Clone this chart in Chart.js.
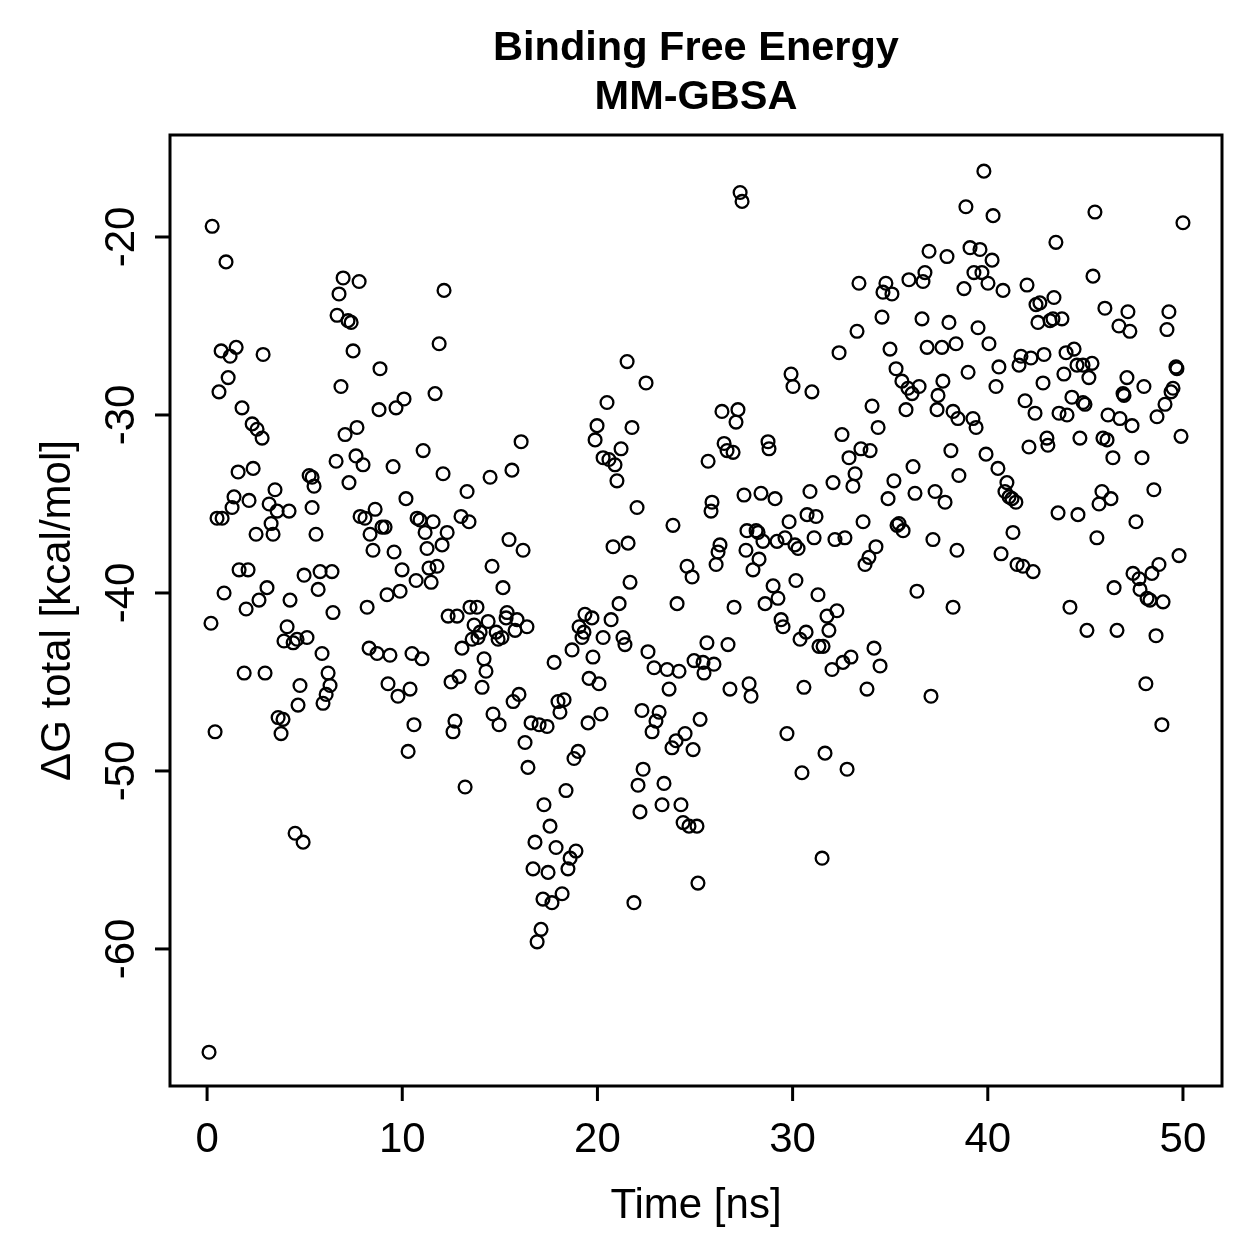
<!DOCTYPE html>
<html>
<head>
<meta charset="utf-8">
<title>Binding Free Energy MM-GBSA</title>
<script src="https://cdn.jsdelivr.net/npm/chart.js@4.4.1/dist/chart.umd.min.js"></script>
<style>
  html, body { margin: 0; padding: 0; background: #fff; }
  #wrap { width: 1259px; height: 1259px; }
</style>
</head>
<body>
<div id="wrap"><canvas id="chart" width="1259" height="1259"></canvas></div>
<script>
// ---------- Data ----------
const titleLines = ['Binding Free Energy', 'MM-GBSA'];
const xLabel = 'Time [ns]';
const yLabel = '\u0394G total [kcal/mol]';
const xTicks = [0, 10, 20, 30, 40, 50];
const yTicks = [-60, -50, -40, -30, -20];

const timeNs = [
  // 0-12 ns, upper
  0.26,0.97,6.97,7.79,6.76,6.66,7.22,7.38,7.48,8.86,6.86,10.09,9.68,8.81,7.68,7.07,11.07,11.89,11.68,12.14,0.72,1.18,1.08,0.61,1.49,2.87,1.79,2.31,2.56,2.82,7.63,
  // 0-12 ns, middle
  1.59,2.36,1.38,1.28,2.15,0.51,0.77,3.48,3.18,3.59,4.20,3.28,2.51,3.38,5.23,5.38,5.48,5.38,5.58,6.61,
  7.99,7.27,9.53,10.19,7.84,8.09,8.61,8.96,9.12,8.35,8.50,9.58,10.76,10.91,11.58,11.17,11.27,11.37,11.78,9.99,
  10.71,11.48,1.64,2.10,0.87,3.07,2.66,2.00,0.20,4.25,4.97,5.79,6.40,5.69,6.45,8.20,9.22,9.89,4.10,3.94,
  4.41,4.61,5.12,5.89,8.30,8.71,9.37,10.50,11.01,1.90,2.97,6.20,6.30,4.76,6.10,5.94,4.66,9.27,9.78,10.40,
  3.64,3.89,3.79,0.41,10.60,10.30,
  // 0-12 ns, lower
  4.51,4.92,0.10,
  // 12-25 ns, middle
  20.29,20.59,20.90,21.00,12.09,14.50,15.62,13.32,13.01,13.42,12.30,12.04,15.47,16.19,14.60,15.16,22.03,20.80,21.57,23.87,
  21.67,24.59,24.85,21.11,24.08,12.35,12.81,13.47,13.83,13.68,13.99,13.88,13.58,13.06,14.40,14.81,14.91,15.11,15.37,15.32,
  15.88,15.78,16.39,14.19,14.29,12.50,12.91,14.09,15.68,15.98,14.65,14.96,12.70,12.60,16.60,17.01,17.42,16.29,17.98,18.29,
  18.08,19.01,18.80,17.78,18.70,19.36,19.72,19.06,19.31,19.21,20.70,20.29,21.31,21.41,19.77,19.57,20.08,20.18,19.52,22.59,
  22.90,23.57,24.18,23.67,24.95,22.28,23.16,23.00,22.80,24.49,24.03,23.82,24.90,25.26,22.34,16.44,
  // 12-25 ns, upper
  21.52,22.49,20.49,19.98,21.77,19.88,21.21,16.09,
  // 12-25 ns, lower
  13.22,18.39,17.26,17.57,16.80,17.88,18.90,18.60,16.70,17.47,18.49,18.19,17.21,17.67,17.11,16.91,21.87,22.08,23.41,22.18,
  23.31,24.28,24.39,24.69,25.10,25.15,
  // 25-38 ns, upper
  27.31,27.41,36.99,37.91,33.40,34.78,34.63,35.09,35.96,36.78,36.68,34.58,36.63,38.01,33.30,32.38,34.99,36.89,37.65,38.37,
  35.30,35.60,35.91,36.12,36.48,37.70,37.45,37.40,38.22,38.47,29.92,30.02,30.99,34.07,35.81,34.38,32.53,26.38,27.20,27.10,
  26.49,26.64,26.95,28.74,28.79,33.50,33.97,38.11,
  // 38-50 ns, upper
  39.80,38.88,40.27,45.49,50.00,43.49,39.09,39.60,40.22,45.39,39.29,39.70,40.01,38.78,40.78,42.01,42.47,42.67,43.39,42.57,
  43.19,43.34,43.80,46.00,47.18,49.28,46.72,47.28,49.18,39.50,40.06,41.70,41.60,42.21,42.88,38.99,40.57,40.42,42.83,44.01,
  44.42,43.90,44.57,44.88,45.34,45.18,47.13,48.00,49.64,49.69,46.93,46.98,49.49,49.39,49.08,48.67,47.39,46.77,46.16,44.31,
  44.88,44.98,43.65,44.06,41.91,42.42,39.24,39.40,43.03,43.08,42.11,44.72,45.90,46.11,49.90,39.91,46.41,47.90,
  // 25-38 ns, middle
  25.67,32.89,36.17,33.20,32.07,33.09,30.89,35.19,36.27,37.30,37.81,34.89,27.51,28.38,29.10,25.87,25.82,29.82,30.74,31.20,
  33.61,35.35,35.45,35.66,37.19,38.42,27.66,28.13,28.23,28.48,29.20,29.61,30.12,30.28,31.10,32.17,32.68,34.27,33.91,33.71,
  26.28,26.18,26.08,27.61,28.28,27.97,29.00,29.25,30.17,28.59,27.00,31.30,31.76,32.27,31.86,29.41,29.51,30.69,30.38,31.35,
  31.56,25.61,26.69,25.41,25.97,25.46,27.77,27.87,26.79,30.58,32.58,32.99,32.02,34.17,34.48,33.81,37.09,36.37,38.22,29.71,
  31.66,38.52,
  // 25-38 ns, lower
  30.48,32.79,31.51,
  // 38-50 ns, middle
  40.52,40.98,40.88,41.09,41.24,41.44,48.51,45.85,46.31,45.70,43.60,44.62,47.59,41.29,45.59,40.68,41.50,41.80,42.32,49.80,
  48.77,48.41,47.44,47.75,47.80,46.47,48.16,48.31,48.98,44.21,45.08,46.62,48.62,48.10,48.92
];

const dGTotal = [
  // 0-12 ns, upper
  -19.4,-21.4,-22.3,-22.5,-23.2,-24.4,-24.7,-24.8,-26.4,-27.4,-28.4,-29.1,-29.6,-29.7,-30.7,-31.1,-32.0,-26.0,-28.8,-23.0,-26.4,-26.7,-27.9,-28.7,-26.2,-26.6,-29.6,-30.5,-30.8,-31.3,-32.3,
  // 0-12 ns, middle
  -33.2,-33.0,-34.6,-35.2,-34.8,-35.8,-35.8,-34.2,-35.0,-35.4,-35.4,-36.1,-36.7,-36.7,-33.4,-33.5,-34.0,-35.2,-36.7,-32.6,
  -32.8,-33.8,-32.9,-34.7,-35.7,-35.8,-35.3,-36.3,-36.3,-36.7,-37.6,-37.7,-35.8,-35.9,-36.0,-36.6,-37.5,-38.6,-38.5,-38.7,
  -39.3,-39.4,-38.7,-38.7,-40.0,-39.7,-40.4,-40.9,-41.7,-40.4,-39.0,-38.8,-38.8,-39.8,-41.1,-40.8,-40.1,-39.9,-41.9,-42.7,
  -42.8,-42.6,-42.5,-43.4,-43.1,-43.4,-43.5,-43.4,-43.7,-44.5,-44.5,-44.5,-45.2,-45.2,-45.7,-46.2,-46.3,-45.1,-45.8,-45.4,
  -47.0,-47.1,-47.9,-47.8,-47.4,-48.9,
  // 0-12 ns, lower
  -53.5,-54.0,-65.8,
  // 12-25 ns, middle
  -32.4,-32.5,-32.8,-33.7,-33.3,-33.5,-33.1,-34.3,-35.7,-36.0,-36.6,-37.3,-37.0,-37.6,-38.5,-39.7,-35.2,-37.4,-37.2,-36.2,
  -39.4,-38.5,-39.1,-40.6,-40.6,-41.3,-41.3,-40.8,-40.8,-41.8,-42.2,-42.5,-42.6,-43.1,-41.6,-42.2,-42.6,-42.5,-41.1,-41.4,
  -41.5,-42.1,-41.9,-43.7,-44.4,-45.0,-44.7,-45.3,-46.1,-45.7,-46.8,-47.4,-47.2,-47.8,-47.3,-47.4,-47.5,-48.4,-46.1,-46.0,
  -46.7,-48.9,-49.3,-43.9,-43.2,-41.2,-41.4,-41.9,-42.2,-42.5,-41.5,-42.5,-42.5,-42.9,-43.6,-44.8,-45.1,-46.8,-47.3,-43.3,
  -44.2,-44.3,-44.4,-45.4,-43.8,-46.6,-46.7,-47.2,-47.8,-47.9,-48.3,-48.7,-48.8,-47.1,-49.9,-49.8,
  // 12-25 ns, upper
  -27.0,-28.2,-29.3,-30.6,-30.7,-31.4,-31.9,-31.5,
  // 12-25 ns, lower
  -50.9,-51.1,-51.9,-53.1,-54.0,-54.3,-54.5,-54.9,-55.5,-55.7,-55.5,-56.9,-57.2,-57.4,-58.9,-59.6,-57.4,-50.8,-50.7,-52.3,
  -51.9,-51.9,-52.9,-53.1,-53.1,-56.3,
  // 25-38 ns, upper
  -17.5,-18.0,-20.8,-21.1,-22.6,-22.6,-23.1,-23.2,-22.4,-22.0,-22.5,-24.5,-24.6,-24.8,-25.3,-26.5,-26.3,-26.2,-26.2,-26.0,
  -27.4,-28.1,-28.5,-28.8,-28.4,-28.1,-28.9,-29.7,-29.8,-30.2,-27.7,-28.4,-28.7,-29.5,-29.7,-30.7,-31.1,-29.8,-29.7,-30.4,
  -31.6,-32.0,-32.1,-31.5,-31.9,-31.9,-32.0,-32.0,
  // 38-50 ns, upper
  -16.3,-18.3,-18.8,-18.6,-19.2,-20.3,-20.6,-20.7,-21.3,-22.2,-22.0,-22.0,-22.6,-22.9,-23.0,-22.7,-23.8,-23.7,-23.4,-24.8,
  -24.7,-24.6,-24.6,-24.0,-24.2,-24.2,-25.0,-25.3,-25.2,-25.1,-26.0,-26.7,-27.2,-26.8,-26.6,-27.6,-27.3,-28.4,-28.2,-26.5,
  -26.3,-27.7,-27.2,-27.2,-27.1,-27.9,-27.9,-28.4,-27.3,-27.4,-28.8,-28.9,-28.5,-28.7,-29.4,-30.1,-30.6,-30.2,-30.0,-29.0,
  -29.3,-29.4,-29.9,-30.0,-29.2,-29.9,-30.2,-30.7,-31.3,-31.7,-31.8,-31.3,-31.3,-31.4,-31.2,-32.2,-32.4,-32.4,
  // 25-38 ns, middle
  -32.6,-32.4,-32.9,-33.3,-33.8,-34.0,-34.3,-33.7,-34.4,-34.3,-34.9,-34.7,-34.5,-34.4,-34.7,-34.9,-35.4,-36.0,-35.6,-35.7,
  -36.0,-36.2,-36.1,-36.5,-37.0,-37.6,-36.5,-36.5,-36.6,-37.1,-37.1,-36.9,-37.3,-37.5,-36.9,-37.0,-36.9,-37.4,-38.0,-38.4,
  -37.3,-37.7,-38.4,-37.6,-38.1,-38.7,-39.6,-40.3,-39.3,-40.6,-40.8,-40.1,-41.3,-41.0,-42.1,-41.5,-41.9,-42.2,-42.6,-43.0,
  -43.0,-42.8,-42.9,-43.9,-44.0,-44.5,-45.1,-45.8,-45.4,-45.3,-43.9,-43.6,-44.3,-43.1,-44.1,-45.4,-45.8,-39.9,-40.8,-47.9,
  -49.0,-33.4,
  // 25-38 ns, lower
  -50.1,-49.9,-54.9,
  // 38-50 ns, middle
  -33.0,-33.8,-34.3,-34.6,-34.7,-34.9,-34.2,-34.3,-34.7,-35.0,-35.5,-35.6,-36.0,-36.6,-36.9,-37.8,-38.4,-38.5,-38.8,-37.9,
  -38.4,-38.9,-38.9,-39.2,-39.8,-39.7,-40.3,-40.4,-40.5,-40.8,-42.1,-42.1,-42.4,-45.1,-47.4
];

const points = timeNs.map((t, i) => ({ x: t, y: dGTotal[i] }));

// ---------- Base-graphics style frame: box, ticks, labels, title ----------
const FONT = '"Liberation Sans", Arial, Helvetica, sans-serif';

const basePlotFrame = {
  id: 'basePlotFrame',
  afterDraw(chart) {
    const { ctx, chartArea: a, scales: { x, y } } = chart;
    ctx.save();
    ctx.strokeStyle = '#000';
    ctx.fillStyle = '#000';
    ctx.lineWidth = 3;
    ctx.strokeRect(a.left, a.top, a.right - a.left, a.bottom - a.top);

    ctx.font = '42px ' + FONT;
    // x axis
    ctx.textAlign = 'center';
    ctx.textBaseline = 'alphabetic';
    xTicks.forEach(v => {
      const px = x.getPixelForValue(v);
      ctx.beginPath();
      ctx.moveTo(px, a.bottom);
      ctx.lineTo(px, a.bottom + 15);
      ctx.stroke();
      ctx.fillText(String(v), px, 1152);
    });
    ctx.fillText(xLabel, (a.left + a.right) / 2, 1218);

    // y axis
    yTicks.forEach(v => {
      const py = y.getPixelForValue(v);
      ctx.beginPath();
      ctx.moveTo(a.left, py);
      ctx.lineTo(a.left - 15, py);
      ctx.stroke();
      ctx.save();
      ctx.translate(134, py);
      ctx.rotate(-Math.PI / 2);
      ctx.fillText(String(v), 0, 0);
      ctx.restore();
    });
    ctx.save();
    ctx.translate(70, (a.top + a.bottom) / 2);
    ctx.rotate(-Math.PI / 2);
    ctx.fillText(yLabel, 0, 0);
    ctx.restore();

    // title
    ctx.font = 'bold 41.5px ' + FONT;
    ctx.fillText(titleLines[0], (a.left + a.right) / 2, 60);
    ctx.fillText(titleLines[1], (a.left + a.right) / 2, 109);
    ctx.restore();
  }
};

new Chart(document.getElementById('chart'), {
  type: 'scatter',
  data: {
    datasets: [{
      data: points,
      pointStyle: 'circle',
      pointRadius: 6.4,
      pointBorderWidth: 2.3,
      pointBorderColor: '#000',
      pointBackgroundColor: 'rgba(0,0,0,0)'
    }]
  },
  options: {
    responsive: false,
    animation: false,
    events: [],
    layout: { padding: { left: 170, right: 37, top: 135, bottom: 173 } },
    plugins: {
      legend: { display: false },
      tooltip: { enabled: false }
    },
    scales: {
      x: { type: 'linear', min: -1.9, max: 52, display: false },
      y: { type: 'linear', min: -67.7, max: -14.27, display: false }
    }
  },
  plugins: [basePlotFrame]
});
</script>
</body>
</html>
